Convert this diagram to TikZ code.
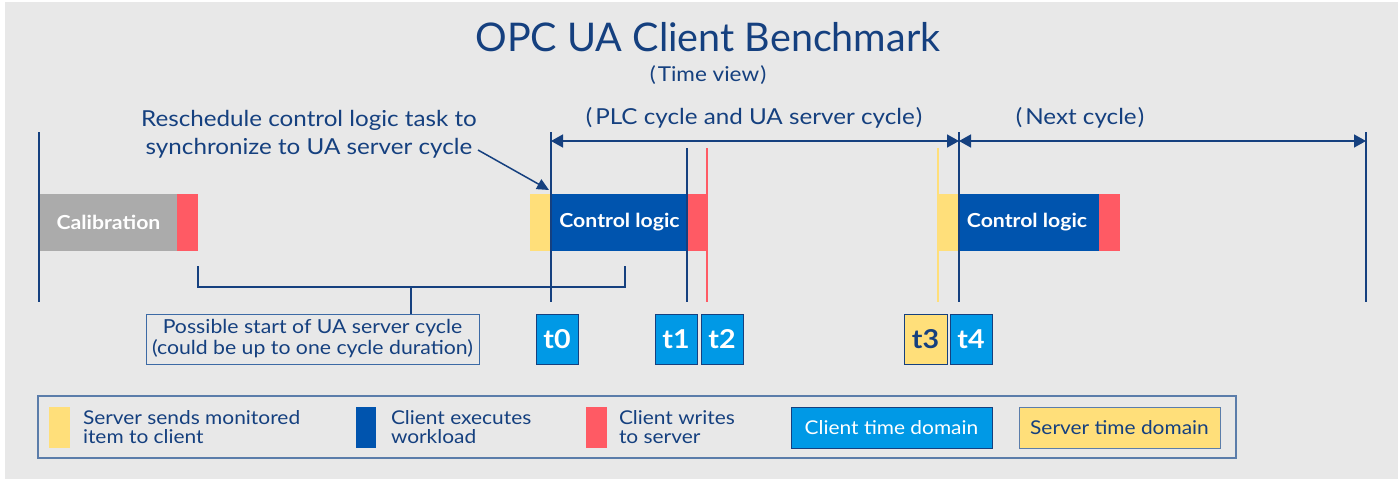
\documentclass[tikz,border=0pt]{standalone}
\usepackage{fontspec}
\setmainfont{Lato}[FakeStretch=1.1]
\newfontfamily\titlefont{Lato}
\usetikzlibrary{arrows.meta}
\definecolor{bg}{HTML}{E8E8E8}
\definecolor{dkblue}{HTML}{15407F}
\definecolor{clblue}{HTML}{0054AE}
\definecolor{tblue}{HTML}{0099E6}
\definecolor{ylw}{HTML}{FFDF7A}
\definecolor{rd}{HTML}{FF5A64}
\definecolor{gry}{HTML}{ABABAB}
\definecolor{lgbd}{HTML}{5B7DAA}
\definecolor{pbd}{HTML}{3C6AA5}
\newcommand{\fsz}[2]{\fontsize{#1}{#2}\selectfont}
\begin{document}
\begin{tikzpicture}[x=1pt,y=-1pt,
  every node/.style={inner sep=0pt,outer sep=0pt},
  seg/.style={draw=none,anchor=north west,minimum height=57pt},
  segtext/.style={text=white,font=\fsz{19.3}{22}\bfseries},
  tbox/.style={draw=dkblue,line width=1pt,fill=tblue,anchor=north west,minimum width=42pt,minimum height=50pt,text=white,font=\fsz{26}{30}\bfseries},
  vline/.style={draw=dkblue,line width=1.5pt},
  dim/.style={draw=dkblue,line width=1.5pt,{Triangle[length=12pt,width=13pt]}-{Triangle[length=12pt,width=13pt]}},
  annot/.style={text=dkblue,font=\fsz{22}{28},align=center},
  legtext/.style={text=dkblue,font=\fsz{19}{19},align=left,anchor=west},
  swatch/.style={draw=none,anchor=north west,minimum width=21pt,minimum height=41pt},
  dombox/.style={anchor=north west,minimum width=201pt,minimum height=41pt,line width=1pt,font=\fsz{19}{22}}
]
\useasboundingbox (0,0) rectangle (1398,479);
\fill[white] (0,0) rectangle (1398,479);
\fill[bg] (5,2) rectangle (1398,479);

% titles
\node[text=dkblue,font=\titlefont\fsz{39.5}{44}] (title) at (708,37) {OPC UA Client Benchmark};
\node[annot,font=\fsz{20.5}{24}] (tview) at (708,75) {(\kern2pt Time view\kern1pt)};
\node[annot] (plc) at (754,118) {(\kern3pt PLC cycle and UA server cycle\kern1pt)};
\node[annot] (next) at (1080,118) {(\kern3pt Next cycle\kern1pt)};
\node[annot] (resched) at (309,134) {Reschedule control logic task to\\synchronize to UA server cycle};

% bars
\node[seg,fill=gry,minimum width=137pt] (cal) at (40,194) {};
\node[segtext] at (cal.center) {Calibration};
\node[seg,fill=rd,minimum width=21pt] (calr) at (177,194) {};
\node[seg,fill=ylw,minimum width=21pt] (y1) at (530,194) {};
\node[seg,fill=clblue,minimum width=135pt] (cl1) at (551,194) {};
\node[segtext] at ([xshift=1pt]cl1.center) {Control logic};
\node[seg,fill=rd,minimum width=21pt] (r1) at (686,194) {};
\node[seg,fill=ylw,minimum width=21pt] (y2) at (938,194) {};
\node[seg,fill=clblue,minimum width=140pt] (cl2) at (959,194) {};
\node[segtext] at ([xshift=-2pt]cl2.center) {Control logic};
\node[seg,fill=rd,minimum width=21pt] (r2) at (1099,194) {};

% vertical time markers
\coordinate (v0t) at (39,132);   \coordinate (v0b) at (39,302);
\coordinate (vat) at (551,132);  \coordinate (vab) at (551,302);
\coordinate (v1t) at (687,148);  \coordinate (v1b) at (687,302);
\coordinate (v2t) at (707,148);  \coordinate (v2b) at (707,302);
\coordinate (v3t) at (938,148);  \coordinate (v3b) at (938,302);
\coordinate (vbt) at (959,132);  \coordinate (vbb) at (959,302);
\coordinate (vct) at (1366,132); \coordinate (vcb) at (1366,302);
\draw[vline] (v0t) -- (v0b);
\draw[vline] (vat) -- (vab);
\draw[vline] (v1t) -- (v1b);
\draw[draw=rd,line width=2pt] (v2t) -- (v2b);
\draw[draw=ylw,line width=2pt] (v3t) -- (v3b);
\draw[vline] (vbt) -- (vbb);
\draw[vline] (vct) -- (vcb);

% cycle dimension arrows
\coordinate (a0) at (551,141);
\coordinate (a1) at (959,141);
\coordinate (a2) at (1366,141);
\draw[dim] (a0) -- (a1);
\draw[dim] (a1) -- (a2);

% reschedule arrow
\coordinate (rs) at (478,150);
\coordinate (rse) at (549,190);
\draw[draw=dkblue,line width=1.5pt,-{Triangle[length=12pt,width=11pt]}] (rs) -- (rse);

% bracket
\node[draw=pbd,line width=1pt,fill=bg,minimum width=333pt,minimum height=50pt,text=dkblue,font=\fsz{19.3}{21},align=center] (pbox) at (312.5,339) {Possible start of UA server cycle\\(could be up to one cycle duration)};
\coordinate (bl) at (198,266);
\coordinate (br) at (625,266);
\coordinate (bm) at (411,287);
\draw[vline] (bl) -- (bl |- bm) -- (br |- bm) -- (br);
\draw[vline] (bm) -- (bm |- pbox.north);

% time labels
\node[tbox] (t0) at (536,314) {t0};
\node[tbox] (t1) at (655,314) {t1};
\node[tbox] (t2) at (701,314) {t2};
\node[tbox,fill=ylw,text=dkblue,minimum width=43pt] (t3) at (904,314) {t3};
\node[tbox] (t4) at (950,314) {t4};

% legend
\node[draw=lgbd,line width=1.5pt,anchor=north west,minimum width=1198pt,minimum height=62pt] (legend) at (38,396) {};
\node[swatch,fill=ylw] (sw1) at (49,407) {};
\node[legtext] (lt1) at (83,427.5) {Server sends monitored\\item to client};
\node[swatch,fill=clblue,minimum width=20pt] (sw2) at (356,407) {};
\node[legtext] (lt2) at (391,427.5) {Client executes\\workload};
\node[swatch,fill=rd] (sw3) at (586,407) {};
\node[legtext] (lt3) at (619,427.5) {Client writes\\to server};
\node[dombox,draw=dkblue,fill=tblue,text=white] (cdom) at (791,407) {Client time domain};
\node[dombox,draw=lgbd,fill=ylw,text=dkblue] (sdom) at (1019,407) {Server time domain};
\end{tikzpicture}
\end{document}
